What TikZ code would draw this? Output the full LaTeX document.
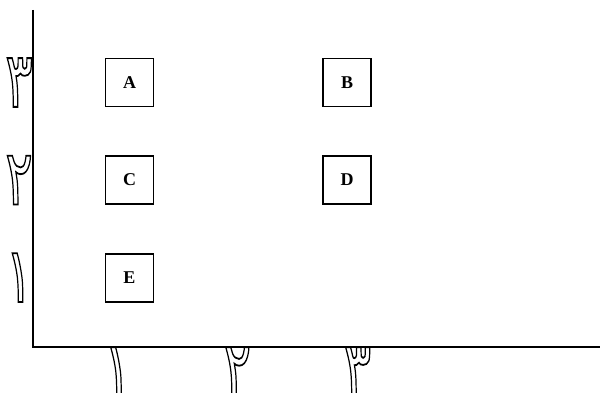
\documentclass[tikz,border=0pt]{standalone}
\usepackage{fontspec}
\setmainfont{Liberation Serif}
\newfontfamily\arabicfont[Script=Arabic]{DejaVu Sans}
\usetikzlibrary{positioning}
\newcommand{\hollowtxt}[1]{\special{pdf:literal direct 1 Tr 1.5 w}#1\special{pdf:literal direct 0 Tr}}
\tikzset{
    letterbox/.style={rectangle, draw=black, line width=1.6pt, minimum width=48pt,
                      minimum height=48pt, inner sep=0pt,
                      font=\bfseries\fontsize{18}{18}\selectfont},
    axisline/.style={draw=black, line width=2pt},
    numlbl/.style={font=\arabicfont\fontsize{64}{64}\selectfont, inner sep=0pt,
                   xscale=0.8, yscale=1.2},
}

\begin{document}
\begin{tikzpicture}[x=1pt, y=1pt, node distance=48pt and 168pt]
    \clip (0,0) rectangle (604,392);
    \coordinate (origin) at (33,45);
    \coordinate (ytop) at (33,382);
    \coordinate (xend) at (600,45);
    \draw[axisline] (ytop) -- (origin) -- (xend);
    % boxes
    \node[letterbox] (a) at (129.5,309.5) {A};
    \node[letterbox, right=of a] (b) {B};
    \node[letterbox, below=of a] (c) {C};
    \node[letterbox, right=of c] (d) {D};
    \node[letterbox, below=of c] (e) {E};
    % tick labels
    \node[numlbl, anchor=east] (ythree) at (origin |- a) {\hollowtxt{٣}};
    \node[numlbl, anchor=east] (ytwo) at (origin |- c) {\hollowtxt{٢}};
    \node[numlbl, anchor=east] (yone) at (origin |- e) {\hollowtxt{١}};
    \node[numlbl, anchor=north] (xone) at (117.5,45) {\hollowtxt{١}};
    \node[numlbl, anchor=north] (xtwo) at (237.5,45) {\hollowtxt{٢}};
    \node[numlbl, anchor=north] (xthree) at (357.5,45) {\hollowtxt{٣}};
\end{tikzpicture}
\end{document}
